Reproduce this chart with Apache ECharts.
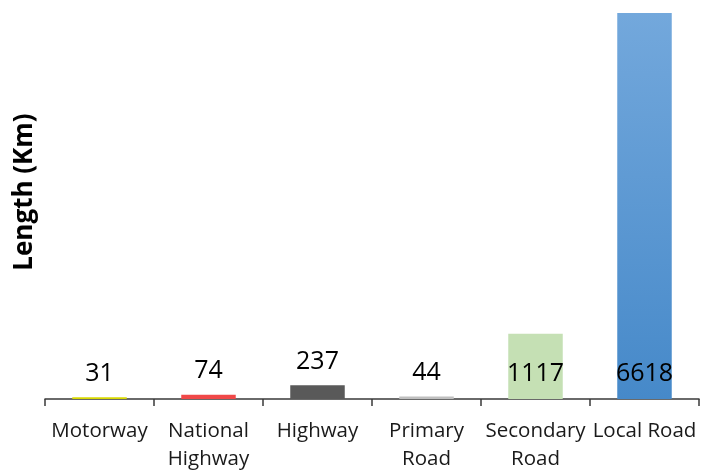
<!DOCTYPE html>
<html>
<head>
<meta charset="utf-8">
<script src="https://cdn.jsdelivr.net/npm/echarts@6/dist/echarts.min.js"></script>
<style>html,body{margin:0;padding:0;background:#fff}#c{width:704px;height:470px}</style>
</head>
<body>
<div id="c"></div>
<script>
var categories = ['Motorway', 'National\nHighway', 'Highway', 'Primary\nRoad', 'Secondary\nRoad', 'Local Road'];
var lengths = [31, 74, 237, 44, 1117, 6618];
var barColors = ['#d8d800', '#f04848', '#595959', '#bfbfbf', '#c5e0b4', null];
var yTitle = 'Length (Km)';

var chart = echarts.init(document.getElementById('c'));
var data = lengths.map(function (v, i) {
  var color = barColors[i] || new echarts.graphic.LinearGradient(0, 0, 0, 1, [
    { offset: 0, color: '#73a8dc' },
    { offset: 1, color: '#4689c9' }
  ]);
  var item = { value: v, itemStyle: { color: color } };
  if (v > 500) {
    item.label = { position: 'insideBottom', distance: 13 };
  }
  return item;
});
chart.setOption({
  animation: false,
  grid: { left: 45, right: 5, top: 13, bottom: 71, containLabel: false, outerBoundsMode: 'none' },
  xAxis: {
    type: 'category',
    data: categories,
    axisLine: { lineStyle: { color: '#3a3a3a', width: 1.5 } },
    axisTick: { show: true, length: 7, lineStyle: { color: '#3a3a3a', width: 1.5 } },
    axisLabel: { color: '#1a1a1a', fontFamily: 'Open Sans', fontSize: 20.5, lineHeight: 28, margin: 18, interval: 0 }
  },
  yAxis: {
    type: 'value',
    min: 0,
    max: 6618,
    show: false
  },
  graphic: [{
    type: 'text',
    rotation: Math.PI / 2,
    x: 25, y: 192,
    style: { text: yTitle, font: 'bold 26px "Open Sans"', fill: '#000', textAlign: 'center', textVerticalAlign: 'middle' }
  }],
  series: [{
    type: 'bar',
    data: data,
    barWidth: '50%',
    label: {
      show: true,
      position: 'top',
      distance: 11,
      color: '#000',
      fontFamily: 'Open Sans',
      fontSize: 25
    }
  }]
});
</script>
</body>
</html>
